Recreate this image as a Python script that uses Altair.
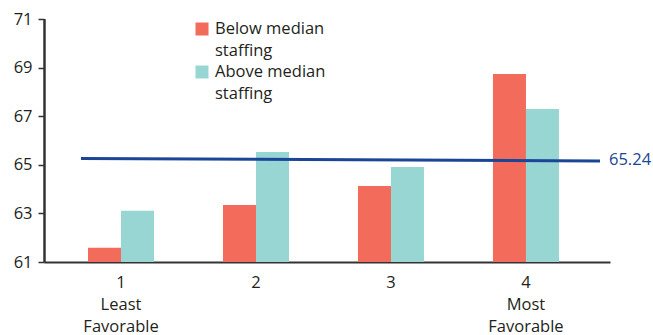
import altair as alt
import pandas as pd

categories = ["1", "2", "3", "4"]
series = ["Below median staffing", "Above median staffing"]
below_values = [61.59, 63.35, 64.13, 68.74]
above_values = [63.11, 65.53, 64.91, 67.30]
mean_label = "65.24"
mean_start = 65.26
mean_end = 65.16
y_ticks = [61, 63, 65, 67, 69, 71]
colors = ["#f26b5b", "#98d6d3"]
legend_lines = [["Below median", "staffing"], ["Above median", "staffing"]]

rows = []
for c, b, a in zip(categories, below_values, above_values):
    rows.append({"cat": c, "series": series[0], "value": b})
    rows.append({"cat": c, "series": series[1], "value": a})
df = pd.DataFrame(rows)

FONT = "Open Sans"
TXT = "#231f20"
BLUE = "#1b4596"
AX = "#333333"

label_expr = ("datum.value == '1' ? ['1','Least','Favorable'] : "
              "datum.value == '4' ? ['4','Most','Favorable'] : datum.value")

yscale = alt.Scale(domain=[61, 71], nice=False, zero=False)


def y_axis():
    return alt.Axis(values=y_ticks, grid=False, ticks=True, tickSize=6, tickColor=AX,
                    tickWidth=1.5, domain=True, domainColor=AX, domainWidth=2,
                    labelPadding=6, labelFont=FONT, labelFontSize=16.5, labelColor=TXT,
                    title=None)


bars = alt.Chart(df).mark_bar(size=33).encode(
    x=alt.X("cat:N", sort=categories, title=None,
            scale=alt.Scale(paddingInner=0.511, paddingOuter=0.352, align=0.463),
            axis=alt.Axis(labelAngle=0, labelExpr=label_expr, ticks=False, labelPadding=12,
                          labelFont=FONT, labelFontSize=16.5, labelColor=TXT, labelLineHeight=22,
                          domainColor=AX, domainWidth=2)),
    xOffset=alt.XOffset("series:N", sort=series),
    y=alt.Y("value:Q", scale=yscale, title=None, axis=y_axis()),
    y2=alt.datum(61),
    color=alt.Color("series:N", sort=series, scale=alt.Scale(domain=series, range=colors), legend=None),
)

# y axis line drawn explicitly as well
y_domain = alt.Chart(pd.DataFrame({"a": [0]})).mark_rule(color=AX, strokeWidth=2).encode(
    x=alt.value(0.5), y=alt.value(0), y2=alt.value(243))

mean_line = alt.Chart(pd.DataFrame({"a": [0]})).mark_rule(color=BLUE, strokeWidth=3).encode(
    x=alt.value(37), x2=alt.value(556),
    y=alt.datum(mean_start, scale=yscale, axis=y_axis()), y2=alt.datum(mean_end),
)
mean_text = alt.Chart(pd.DataFrame({"t": [mean_label]})).mark_text(
    align="left", baseline="middle", font=FONT, fontSize=16.5, color=BLUE
).encode(x=alt.value(565), y=alt.datum(65.2, scale=yscale, axis=y_axis()), text="t:N")

legend_layers = []
for i, (s, col, lines) in enumerate(zip(series, colors, legend_lines)):
    ldf = pd.DataFrame({"s": [s], "t": ["\n".join(lines)]})
    yy = 10 + i * 43
    sq = alt.Chart(ldf).mark_square(size=169, color=col, opacity=1, filled=True).encode(
        x=alt.value(158), y=alt.value(yy))
    tx = alt.Chart(ldf).mark_text(align="left", baseline="middle", font=FONT, fontSize=16.5,
                                  color=TXT, lineBreak="\n", lineHeight=21.5).encode(
        x=alt.value(171), y=alt.value(yy), text="t:N")
    legend_layers += [sq, tx]

chart = alt.layer(bars, y_domain, mean_line, mean_text, *legend_layers).properties(
    width=566, height=243,
    background="white",
    autosize=alt.AutoSizeParams(type="none"),
    padding={"left": 44, "top": 19, "right": 43, "bottom": 73},
).configure_view(stroke=None)

chart.save("out.html", embed_options={"renderer": "svg", "actions": False})
